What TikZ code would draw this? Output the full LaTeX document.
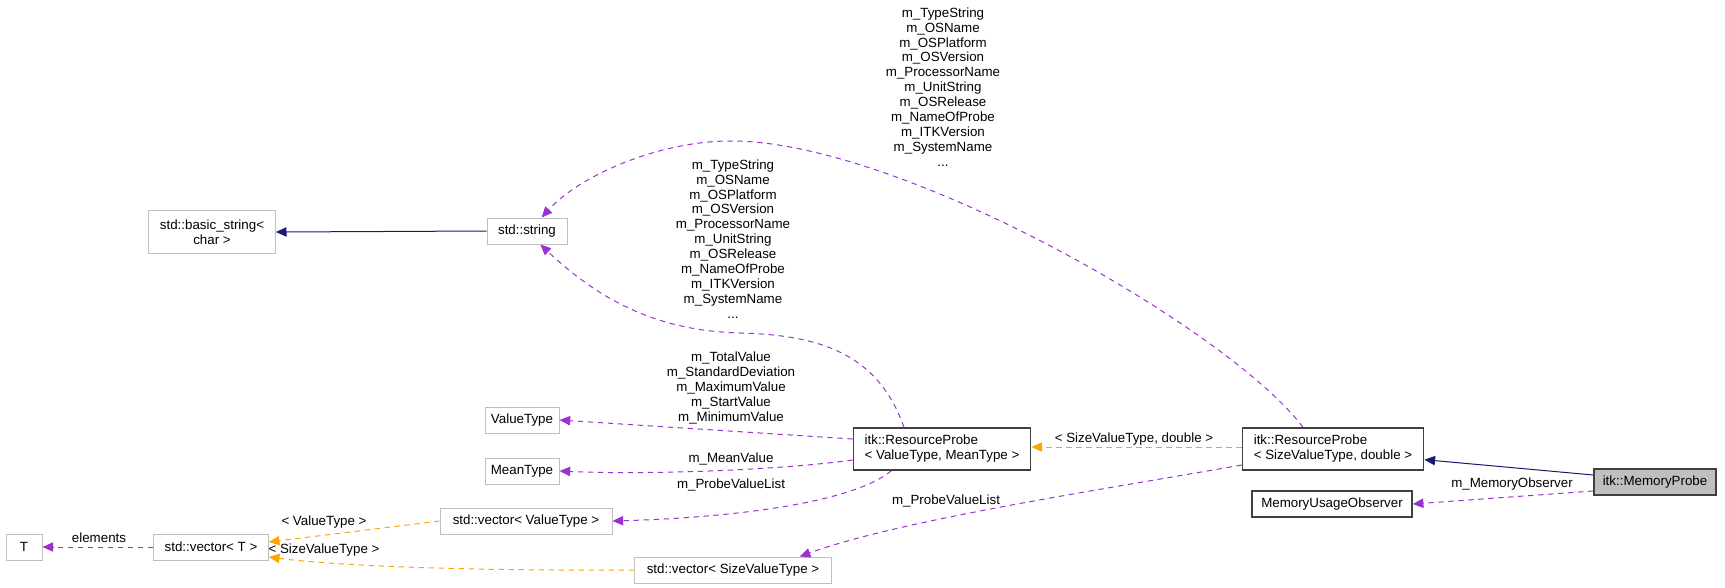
\documentclass[tikz,border=0pt]{standalone}
\usepackage{fontspec}
\setmainfont{Liberation Sans}
\usetikzlibrary{arrows.meta}
\definecolor{edgeblue}{HTML}{191970}
\definecolor{edgepurple}{HTML}{9A32CD}
\definecolor{edgeorange}{HTML}{FFA500}
\definecolor{boxgray}{HTML}{BFBFBF}
\definecolor{boxdark}{HTML}{404040}

\begin{document}
\begin{tikzpicture}[x=0.75pt,y=-0.75pt]
\tikzstyle{every node}=[font=\fontsize{10}{11.2}\selectfont,inner sep=0pt]
\tikzstyle{ext}=[draw=boxgray,line width=0.75pt,minimum height=19.5pt]
\tikzstyle{doc}=[draw=boxdark,line width=1.1pt,minimum height=19.5pt]
\tikzstyle{twoline}=[minimum height=31.5pt,align=left]
\tikzstyle{inherit}=[edgeblue,line width=0.75pt,-{Triangle[length=8pt,width=7pt]}]
\tikzstyle{member}=[edgepurple,line width=0.75pt,dash pattern=on 4pt off 3.5pt,-{Triangle[length=8pt,width=7pt]}]
\tikzstyle{tmpl}=[edgeorange,line width=0.75pt,dash pattern=on 4pt off 3.5pt,-{Triangle[length=8pt,width=7pt]}]
\tikzstyle{lbl}=[align=center]

\useasboundingbox (0,0) rectangle (1725,587);

% classes
\node[ext,minimum width=27pt] (t) at (24,547) {T};
\node[ext,minimum width=86pt] (vect) at (211,547) {std::vector< T >};
\node[ext,minimum width=55.5pt] (vtype) at (522,420) {ValueType};
\node[ext,minimum width=55.5pt] (mtype) at (522,471) {MeanType};
\node[ext,minimum width=129pt] (vecvt) at (526,521) {std::vector< ValueType >};
\node[ext,minimum width=148pt] (vecsvt) at (733,570) {std::vector< SizeValueType >};
\node[ext,minimum width=95pt,minimum height=32pt,align=center] (bstr) at (212,232) {std::basic\_string<\\char >};
\node[ext,minimum width=60pt] (str) at (527,231) {std::string};
\node[doc,twoline,minimum width=133pt] (rp1) at (942,449) {itk::ResourceProbe\\< ValueType, MeanType >};
\node[doc,twoline,minimum width=136pt] (rp2) at (1333,449) {itk::ResourceProbe\\< SizeValueType, double >};
\node[doc,minimum width=120pt] (muo) at (1332,504) {MemoryUsageObserver};
\node[doc,fill=boxgray,minimum width=91.5pt] (mp) at (1655,482) {itk::MemoryProbe};

% edges
\draw[inherit] (str.west) -- (bstr.east);
\draw[inherit] ([yshift=5.25pt]mp.west) -- ([yshift=-8pt]rp2.east);
\draw[member] ([yshift=-6.75pt]mp.west) -- (muo.east);
\draw[tmpl] ([yshift=1.5pt]rp2.west) -- ([yshift=1.5pt]rp1.east);
\draw[member] ([yshift=-12pt]rp2.west) .. controls (1100,490) and (900,520) .. ([xshift=50pt]vecsvt.north);
\draw[member] ([xshift=-22.5pt]rp2.north) .. controls (1230,330) and (900,140) .. (730,141)
  .. controls (660,141) and (580,175) .. ([xshift=11pt]str.north);
\draw[member] ([xshift=-28.5pt]rp1.north) .. controls (880,360) and (830,335) .. (740,333)
  .. controls (670,331) and (610,310) .. ([xshift=10pt]str.south);
\draw[member] ([yshift=7.5pt]rp1.west) -- (vtype.east);
\draw[member] ([yshift=-8.25pt]rp1.west) .. controls (780,470) and (650,475) .. (mtype.east);
\draw[member] ([xshift=-38pt]rp1.south) .. controls (850,505) and (720,518) .. (vecvt.east);
\draw[tmpl] (vecvt.west) -- ([yshift=3.75pt]vect.east);
\draw[tmpl] (vecsvt.west) .. controls (450,571) and (330,565) .. ([yshift=-7.5pt]vect.east);
\draw[member] (vect.west) -- (t.east);

% labels
\node[lbl] (l1) at (943,87) {m\_TypeString\\m\_OSName\\m\_OSPlatform\\m\_OSVersion\\m\_ProcessorName\\m\_UnitString\\m\_OSRelease\\m\_NameOfProbe\\m\_ITKVersion\\m\_SystemName\\...};
\node[lbl] (l2) at (733,239) {m\_TypeString\\m\_OSName\\m\_OSPlatform\\m\_OSVersion\\m\_ProcessorName\\m\_UnitString\\m\_OSRelease\\m\_NameOfProbe\\m\_ITKVersion\\m\_SystemName\\...};
\node[lbl] (l3) at (731,388) {m\_TotalValue\\m\_StandardDeviation\\m\_MaximumValue\\m\_StartValue\\m\_MinimumValue};
\node[lbl] (l4) at (731,459) {m\_MeanValue};
\node[lbl] (l5) at (731,485) {m\_ProbeValueList};
\node[lbl] (l6) at (946,501) {m\_ProbeValueList};
\node[lbl] (l7) at (1134,439) {< SizeValueType, double >};
\node[lbl] (l8) at (1512,484) {m\_MemoryObserver};
\node[lbl] (l9) at (324,522) {< ValueType >};
\node[lbl] (l10) at (324,550) {< SizeValueType >};
\node[lbl] (l11) at (99,538) {elements};
\end{tikzpicture}
\end{document}
